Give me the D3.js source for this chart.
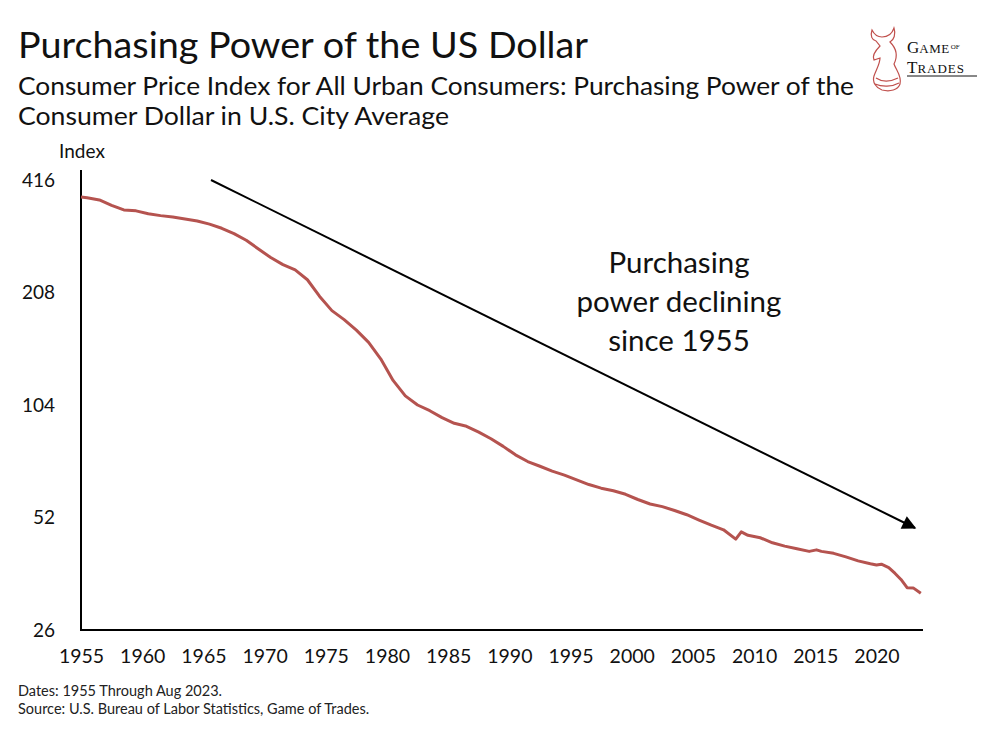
<!DOCTYPE html>
<html>
<head>
<meta charset="utf-8">
<script src="https://cdn.jsdelivr.net/npm/d3@7"></script>
<style>
  body { margin: 0; background: #fff; }
  svg { display: block; font-family: Lato, "Open Sans", sans-serif; }
</style>
</head>
<body>
<svg id="chart" width="1000" height="734"></svg>
<script>
// Purchasing power index (1982-84 = 100)
const years = [1955.0, 1955.5, 1956.5, 1957.5, 1958.5, 1959.5, 1960.5, 1961.5, 1962.5, 1963.5,
  1964.5, 1965.5, 1966.5, 1967.5, 1968.5, 1969.5, 1970.5, 1971.5, 1972.5, 1973.5,
  1974.5, 1975.5, 1976.5, 1977.5, 1978.5, 1979.5, 1980.5, 1981.5, 1982.5, 1983.5,
  1984.5, 1985.5, 1986.5, 1987.5, 1988.5, 1989.5, 1990.5, 1991.5, 1992.5, 1993.5,
  1994.5, 1995.5, 1996.5, 1997.5, 1998.5, 1999.5, 2000.5, 2001.5, 2002.5, 2003.5,
  2004.5, 2005.5, 2006.5, 2007.5, 2008.5, 2008.95, 2009.5, 2010.5, 2011.5, 2012.5,
  2013.5, 2014.5, 2015.1, 2015.5, 2016.5, 2017.5, 2018.5, 2019.5, 2020.0, 2020.4,
  2021.0, 2021.5, 2022.0, 2022.5, 2023.0, 2023.62];
const values = [374.5, 373, 368, 356, 346, 344, 338, 334, 331, 327,
  323, 317, 309, 299, 287, 272, 258, 247, 239, 225,
  203, 186, 176, 165, 153, 138, 121, 110, 104, 100.4,
  96.2, 92.9, 91.2, 88.0, 84.5, 80.6, 76.5, 73.4, 71.3, 69.2,
  67.5, 65.6, 63.7, 62.3, 61.3, 60.0, 58.1, 56.5, 55.6, 54.3,
  52.9, 51.2, 49.6, 48.2, 45.5, 47.6, 46.6, 45.9, 44.5, 43.6,
  42.9, 42.2, 42.6, 42.2, 41.7, 40.8, 39.8, 39.1, 38.8, 39.0,
  38.2, 36.9, 35.5, 33.75, 33.7, 32.6];
const yTicks = [26, 52, 104, 208, 416];
const xTicks = [1955, 1960, 1965, 1970, 1975, 1980, 1985, 1990, 1995, 2000, 2005, 2010, 2015, 2020];

const title = "Purchasing Power of the US Dollar";
const subtitle = ["Consumer Price Index for All Urban Consumers: Purchasing Power of the",
                  "Consumer Dollar in U.S. City Average"];
const annotation = ["Purchasing", "power declining", "since 1955"];
const notes = ["Dates: 1955 Through Aug 2023.", "Source: U.S. Bureau of Labor Statistics, Game of Trades."];

const svg = d3.select("#chart");
const lineColor = "#b5534f";

const x = d3.scaleLinear().domain([1955, 2023.8]).range([81, 923]);
const y = d3.scaleLog().base(2).domain([26, 416]).range([630, 180]);

// Titles
svg.append("text").attr("x", 18).attr("y", 58).attr("font-size", 37).attr("fill", "#111")
  .attr("textLength", 570).attr("lengthAdjust", "spacingAndGlyphs").text(title);
svg.selectAll(".sub").data(subtitle).enter().append("text")
  .attr("x", 18).attr("y", (d, i) => 95 + i * 30).attr("font-size", 25.5).attr("fill", "#111")
  .attr("textLength", (d, i) => i === 0 ? 836 : 431).attr("lengthAdjust", "spacingAndGlyphs").text(d => d);

// Axes lines
svg.append("line").attr("x1", 81).attr("x2", 81).attr("y1", 170).attr("y2", 631)
  .attr("stroke", "#000").attr("stroke-width", 2);
svg.append("line").attr("x1", 80).attr("x2", 923).attr("y1", 630).attr("y2", 630)
  .attr("stroke", "#000").attr("stroke-width", 2);

// Y ticks
const yAxis = d3.axisLeft(y).tickValues(yTicks).tickFormat(d3.format("d")).tickSize(0).tickPadding(26);
const gy = svg.append("g").attr("transform", "translate(81,0)").call(yAxis);
gy.select(".domain").remove();
gy.selectAll("text").attr("font-size", 19).attr("fill", "#111").attr("font-family", "Lato, sans-serif");

// X ticks
const xAxis = d3.axisBottom(x).tickValues(xTicks).tickFormat(d3.format("d")).tickSize(0).tickPadding(19);
const gx = svg.append("g").attr("transform", "translate(0,630)").call(xAxis);
gx.select(".domain").remove();
gx.selectAll("text").attr("font-size", 19.5).attr("fill", "#111").attr("font-family", "Lato, sans-serif");

svg.append("text").attr("x", 82).attr("y", 158).attr("text-anchor", "middle")
  .attr("font-size", 19).attr("fill", "#111").text("Index");

// Data line
const pts = years.map((yr, i) => [yr, values[i]]);
svg.append("path").datum(pts)
  .attr("fill", "none").attr("stroke", lineColor).attr("stroke-width", 3).attr("stroke-linejoin", "round")
  .attr("d", d3.line().x(d => x(d[0])).y(d => y(d[1])));

// Arrow
const defs = svg.append("defs");
defs.append("marker").attr("id", "arr").attr("viewBox", "0 0 10 10").attr("refX", 9).attr("refY", 5)
  .attr("markerUnits", "userSpaceOnUse").attr("orient", "auto")
  .attr("markerWidth", 18).attr("markerHeight", 14)
  .append("path").attr("d", "M0,0 L10,5 L0,10 Z").attr("fill", "#000");
svg.append("line").attr("x1", 211).attr("y1", 180).attr("x2", 915).attr("y2", 528)
  .attr("stroke", "#000").attr("stroke-width", 2).attr("marker-end", "url(#arr)");

// Annotation
svg.selectAll(".ann").data(annotation).enter().append("text")
  .attr("x", 679).attr("y", (d, i) => 273 + i * 39).attr("text-anchor", "middle")
  .attr("font-size", 29.5).attr("fill", "#111").text(d => d);

// Notes
svg.selectAll(".note").data(notes).enter().append("text")
  .attr("x", 18).attr("y", (d, i) => 696 + i * 18).attr("font-size", 14.5).attr("fill", "#222").text(d => d);

// Logo
const logo = svg.append("g").attr("transform", "translate(866,26)");
logo.append("path")
  .attr("d", "M6,4 C4,10 6,14 10,15 L14,20 C10,24 6,30 8,34 L14,32 C14,38 10,44 8,50 C6,56 10,62 16,64 C24,66 32,64 34,58 C36,50 30,44 28,38 C32,30 30,22 24,16 C28,14 30,8 28,2 C26,8 22,11 16,11 C12,11 8,8 6,4 Z M10,52 C16,56 24,56 32,52 M9,58 C16,61 26,61 33,57")
  .attr("fill", "none").attr("stroke", "#c0504d").attr("stroke-width", 1.2);
const lt = svg.append("g").attr("font-family", "'Liberation Serif', 'DejaVu Serif', serif").attr("fill", "#111");
const t1 = lt.append("text").attr("x", 907).attr("y", 53);
t1.append("tspan").attr("font-size", 17).text("G");
t1.append("tspan").attr("font-size", 13).attr("letter-spacing", 0.5).text("AME");
t1.append("tspan").attr("font-size", 7).attr("dy", -4).attr("dx", 1).text("OF");
const t2 = lt.append("text").attr("x", 907).attr("y", 73);
t2.append("tspan").attr("font-size", 17).text("T");
t2.append("tspan").attr("font-size", 13).attr("letter-spacing", 1).text("RADES");
svg.append("line").attr("x1", 907).attr("x2", 977).attr("y1", 76).attr("y2", 76).attr("stroke", "#111").attr("stroke-width", 1);
</script>
</body>
</html>
